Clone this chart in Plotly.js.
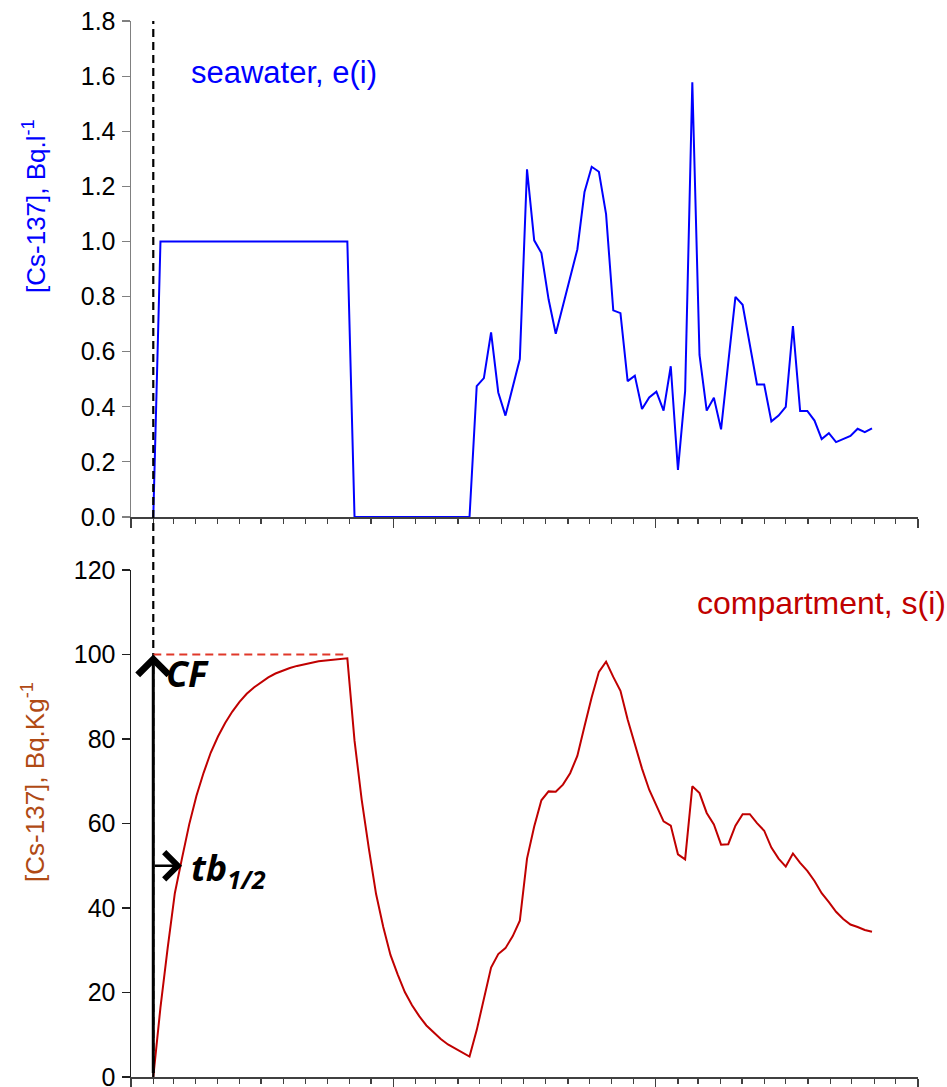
<!DOCTYPE html>
<html>
<head>
<meta charset="utf-8">
<script src="https://cdn.plot.ly/plotly-3.0.1.min.js"></script>
<style>html,body{margin:0;padding:0;background:#fff;}#chart{width:947px;height:1087px;}</style>
</head>
<body>
<div id="chart"></div>
<script>
// time grid: one value every 10 days, starting 1 Feb of year 1
const startDate = '2001-02-01';
const stepDays = 10;

// seawater concentration e(i), Bq/l
const seawater = [
  0,
  1,1,1,1,1,1,1,1,1,1,1,1,1,1,1,1,1,1,1,1,1,1,1,1,1,1,1,
  0,0,0,0,0,0,0,0,0,0,0,0,0,0,0,0,0,
  0.475,0.504,0.670,0.452,0.368,0.47,0.573,1.262,1.004,0.958,
  0.790,0.665,0.77,0.87,0.971,1.180,1.271,1.253,1.099,0.750,
  0.740,0.493,0.513,0.392,0.434,0.455,0.386,0.547,0.171,0.457,
  1.578,0.588,0.386,0.433,0.318,0.56,0.799,0.770,0.63,0.481,
  0.481,0.347,0.368,0.400,0.693,0.385,0.385,0.350,0.283,0.304,
  0.272,0.283,0.294,0.320,0.308,0.322
];

// compartment concentration s(i), Bq/kg
const compartment = [
  0,
  16.5,30.5,43.5,51.8,59.8,66.5,72.0,76.8,80.6,83.8,
  86.5,88.8,90.7,92.2,93.5,94.6,95.5,96.2,96.8,97.3,
  97.7,98.1,98.4,98.6,98.8,99.0,99.1,
  79.6,65.6,54.0,43.3,35.5,28.9,24.3,20.1,17.0,14.4,
  12.2,10.5,9.0,7.7,6.7,5.7,
  4.85,11.1,18.9,25.9,29.1,30.5,33.3,37.0,51.7,59.3,
  65.5,67.6,67.5,69.2,71.9,76.0,83.0,89.9,95.9,98.3,
  94.7,91.4,84.6,78.5,73.0,68.0,64.3,60.5,59.5,52.7,
  51.5,68.8,67.2,62.5,59.8,55.0,55.1,59.5,62.2,62.2,
  60.1,58.3,54.3,51.7,49.8,52.9,50.7,48.8,46.4,43.5,
  41.4,39.1,37.4,36.1,35.5,34.8,34.4
];

const CF = 100;
const halfLifeLevel = 50;
const plateauEndIndex = 27;
const halfTimeIndex = 4;

function dateAt(i){
  const d = new Date(startDate + 'T00:00:00Z');
  d.setUTCDate(d.getUTCDate() + i*stepDays);
  return d.toISOString().slice(0,10);
}
const dates = seawater.map((_, i) => dateAt(i));
const dates2 = compartment.map((_, i) => dateAt(i));

const tickFont = {family:'Liberation Sans, Arial, sans-serif', size:25, color:'#000'};
const xCommon = {
  type:'date', range:['2001-01-01','2004-01-01'],
  showgrid:false, zeroline:false, showline:true, linecolor:'#404040', linewidth:1.5,
  ticks:'outside', tick0:'2001-01-01', dtick:'M12', ticklen:9, tickwidth:1.5, tickcolor:'#404040',
  showticklabels:false,
  minor:{dtick:'M1', ticks:'outside', ticklen:5, tickwidth:1.2, tickcolor:'#404040', showgrid:false}
};

const traces = [
  {x:dates, y:seawater, type:'scatter', mode:'lines', line:{color:'#0000FF', width:2},
   xaxis:'x', yaxis:'y', hoverinfo:'skip'},
  {x:dates2, y:compartment, type:'scatter', mode:'lines', line:{color:'#C00000', width:2},
   xaxis:'x2', yaxis:'y2', hoverinfo:'skip'}
];

const layout = {
  width:947, height:1087,
  margin:{l:131, r:29, t:21, b:10},
  paper_bgcolor:'#fff', plot_bgcolor:'#fff',
  showlegend:false,
  font:{family:'Liberation Sans, Arial, sans-serif'},
  xaxis:Object.assign({}, xCommon, {anchor:'y'}),
  xaxis2:Object.assign({}, xCommon, {anchor:'y2', matches:'x'}),
  yaxis:{domain:[0.5303,1], anchor:'x', range:[0,1.8], dtick:0.2, tickformat:'.1f',
    ticks:'outside', ticklen:8, tickwidth:1.2, tickcolor:'#808080', showline:true, linecolor:'#808080', linewidth:1.5,
    showgrid:false, zeroline:false, tickfont:tickFont, ticklabelstandoff:1, ticklabeloverflow:'allow'},
  yaxis2:{domain:[0,0.4801], anchor:'x2', range:[0,120], dtick:20,
    ticks:'outside', ticklen:8, tickwidth:1.2, tickcolor:'#202020', showline:true, linecolor:'#202020', linewidth:1.5,
    showgrid:false, zeroline:false, tickfont:tickFont, ticklabelstandoff:1, ticklabeloverflow:'allow'},
  shapes:[
    {type:'line', xref:'x', yref:'paper', x0:dates[0], x1:dates[0], y0:0, y1:1,
     line:{color:'#000', width:2.2, dash:'8px,5px'}},
    {type:'line', xref:'x2', yref:'y2', x0:dates2[0], x1:dates2[plateauEndIndex], y0:CF, y1:CF,
     line:{color:'#E0382A', width:1.8, dash:'8px,5px'}}
  ],
  annotations:[
    {xref:'paper', yref:'paper', x:0.074, y:0.9517, xanchor:'left', yanchor:'middle', showarrow:false,
     text:'seawater, e(i)', font:{family:'Liberation Sans, Arial, sans-serif', size:31, color:'#0000FF'}},
    {xref:'paper', yref:'paper', x:0.717, y:0.4489, xanchor:'left', yanchor:'middle', showarrow:false,
     text:'compartment, s(i)', font:{family:'Liberation Sans, Arial, sans-serif', size:32, color:'#C00000'}},
    {xref:'paper', yref:'paper', x:-0.1233, y:0.8248, xanchor:'center', yanchor:'middle', showarrow:false, textangle:-90,
     text:'[Cs-137], Bq.l<sup>-1</sup>', font:{family:'Liberation Sans, Arial, sans-serif', size:26, color:'#0000FF'}},
    {xref:'paper', yref:'paper', x:-0.1233, y:0.2794, xanchor:'center', yanchor:'middle', showarrow:false, textangle:-90,
     text:'[Cs-137], Bq.Kg<sup>-1</sup>', font:{family:'Liberation Sans, Arial, sans-serif', size:26, color:'#B04A14'}},
    // CF arrow
    {xref:'x2', yref:'y2', axref:'x2', ayref:'y2', x:dates2[0], y:CF, ax:dates2[0], ay:0.6, text:'',
     showarrow:true, arrowhead:4, arrowsize:2.0, arrowwidth:3, arrowcolor:'#000', standoff:0, startstandoff:0},
    {xref:'x2', yref:'y2', x:dates2[0], y:CF-4.5, xanchor:'left', yanchor:'middle', xshift:11, showarrow:false,
     text:'<b><i>CF</i></b>', font:{family:'Open Sans, sans-serif', size:36, color:'#000'}},
    // half-time arrow
    {xref:'x2', yref:'y2', axref:'x2', ayref:'y2', x:dates2[halfTimeIndex], y:halfLifeLevel, ax:dates2[0], ay:halfLifeLevel, text:'',
     showarrow:true, arrowhead:4, arrowsize:2.1, arrowwidth:2.5, arrowcolor:'#000', standoff:0, startstandoff:0},
    {xref:'x2', yref:'y2', x:dates2[halfTimeIndex], y:halfLifeLevel, xanchor:'left', yanchor:'middle', xshift:7, yshift:-4, showarrow:false,
     text:'<b><i>tb<sub>1/2</sub></i></b>', font:{family:'Open Sans, sans-serif', size:36, color:'#000'}}
  ]
};

Plotly.newPlot('chart', traces, layout, {displayModeBar:false, staticPlot:true});
</script>
</body>
</html>
